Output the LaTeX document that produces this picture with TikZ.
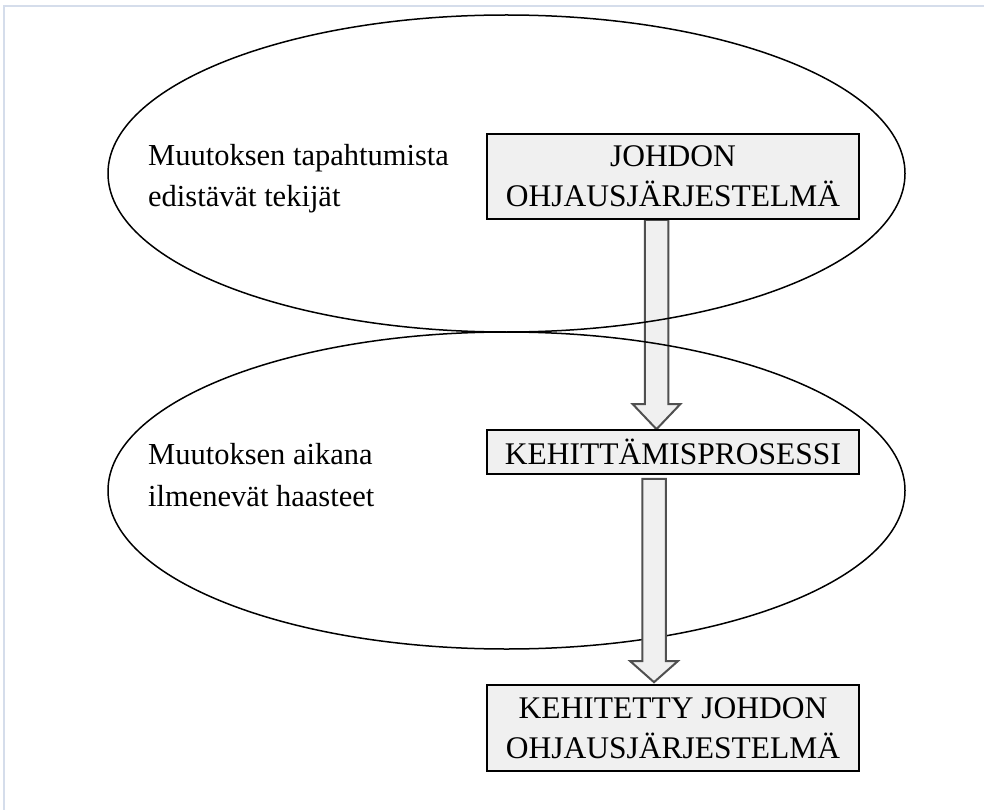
\documentclass[tikz,border=0pt]{standalone}
\usepackage{fontspec}
\setmainfont{Liberation Serif}
\usetikzlibrary{shapes.geometric,calc,backgrounds}
\definecolor{framecol}{HTML}{D5DDEB}
\definecolor{boxfill}{HTML}{F0F0F0}
\definecolor{arrowline}{HTML}{505050}

% Hollow block arrow: from, to, x-offset, top gap, bottom gap, head length
\newcommand\blockarrow[6]{%
  \draw[fat] let \p1=($(#1)+(#3,0)$), \p2=($(#2)+(#3,0)$) in
    (\x1-11.75,\y1-#4) -- (\x1-11.75,\y2+#5+#6) -- (\x1-23.75,\y2+#5+#6) --
    (\x1,\y2+#5) --
    (\x1+23.75,\y2+#5+#6) -- (\x1+11.75,\y2+#5+#6) -- (\x1+11.75,\y1-#4) -- cycle;}

\begin{document}
\begin{tikzpicture}[x=1pt,y=-1pt,
  every node/.style={font=\fontsize{31.5}{40}\selectfont},
  zone/.style={ellipse, draw, line width=1.5, minimum width=797, minimum height=317, inner sep=0},
  sidetext/.style={anchor=base west, align=left, inner sep=0, font=\fontsize{30.5}{41.5}\selectfont},
  stage/.style={draw, line width=1.6, fill=boxfill, minimum width=372, align=center, inner sep=0},
  fat/.style={fill=boxfill, draw=arrowline, line width=2, line join=miter}]
\useasboundingbox (0,0) rectangle (984,810);

% page frame
\draw[framecol, line width=2] (984,6) -- (3.5,6) -- (3.5,810);

% stages
\node[stage, minimum height=85] (b1) at (673,176.5) {JOHDON\\OHJAUSJÄRJESTELMÄ};
\node[stage, minimum height=44] (b2) at (673,452) {KEHITTÄMISPROSESSI};
\node[stage, minimum height=86] (b3) at (673,728) {KEHITETTY JOHDON\\OHJAUSJÄRJESTELMÄ};

% side texts (anchored on the baseline of their last line)
\node[sidetext] (t1) at (148,207) {Muutoksen tapahtumista\\edistävät tekijät};
\node[sidetext] (t2) at (148,506) {Muutoksen aikana\\ilmenevät haasteet};

\begin{scope}[on background layer]
  \blockarrow{b1.south}{b2.north}{-16.5}{0}{0}{25}
  \node[zone] (e1) at (506.5,173.5) {};
  \node[zone] (e2) at (506.5,490.5) {};
  \blockarrow{b2.south}{b3.north}{-19}{4}{2}{21}
\end{scope}
\end{tikzpicture}
\end{document}
